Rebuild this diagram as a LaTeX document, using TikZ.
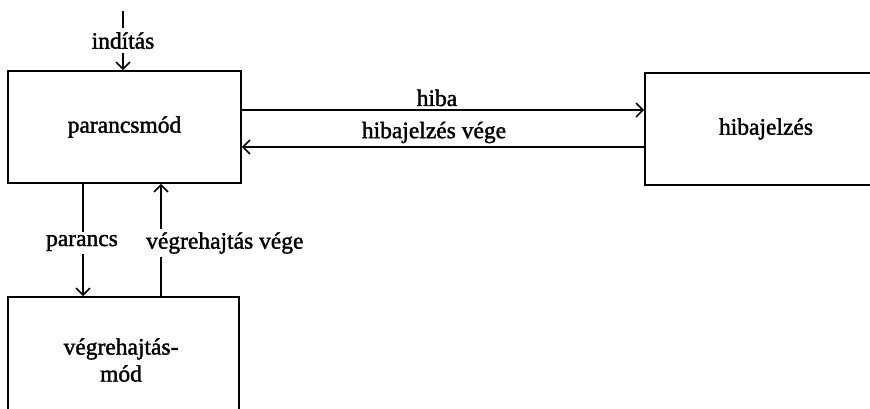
\documentclass[tikz,border=0pt]{standalone}
\usepackage{fontspec}
\setmainfont{Liberation Serif}[AutoFakeBold=1.6]
\usetikzlibrary{arrows.meta}
\tikzset{
  frame/.style={draw, line width=1.6pt, inner sep=0pt},
  flow/.style={line width=1.6pt, -{Straight Barb[length=7pt,width=14pt,line width=1.6pt]}},
  lbl/.style={font=\fontsize{23.5}{27}\selectfont\bfseries, inner sep=1pt},
  gaplbl/.style={lbl, fill=white, inner sep=3pt},
}
\begin{document}
\begin{tikzpicture}[x=1pt, y=-1pt]
  \clip (0,0) rectangle (870,409);

  % boxes (the right and lower ones run past the edge)
  \node[frame, minimum width=233pt, minimum height=112pt] (pm) at (124.5,127) {};
  \node[lbl] (pmtext) at (pm.center) {parancsmód};

  \node[frame, minimum width=242pt, minimum height=112pt] (hj) at (766,129) {};
  \node[lbl] (hjtext) at (hj.center) {hibajelzés};

  \node[frame, minimum width=231pt, minimum height=130pt] (vm) at (123.5,362) {};
  \node[lbl, align=center] (vmtext) at (121,360) {végrehajtás-\\mód};

  % start signal
  \coordinate (start) at (123,11);
  \draw[flow] (start) -- node[gaplbl, inner ysep=4pt] (startlbl) {indítás} (start |- pm.north);

  % error signalling
  \coordinate (hibaA) at (pm.east |- 0,110);
  \coordinate (hibaB) at (hj.west |- 0,110);
  \draw[flow] (hibaA) -- node[lbl, above=2pt, xshift=-6pt] (hibalbl) {hiba} (hibaB);

  \coordinate (vegeA) at (hj.west |- 0,147);
  \coordinate (vegeB) at (pm.east |- 0,147);
  \draw[flow] (vegeA) -- node[lbl, above=2pt, xshift=-9pt] (vegelbl) {hibajelzés vége} (vegeB);

  % command / execution
  \coordinate (cmdA) at (83,0);
  \draw[flow] (cmdA |- pm.south) -- (cmdA |- vm.north);
  \node[gaplbl] (cmdlbl) at (82,243) {parancs};

  \coordinate (execA) at (161,0);
  \draw[flow] (execA |- vm.north) -- (execA |- pm.south);
  \node[gaplbl, anchor=west] (execlbl) at (143,243) {végrehajtás vége};
\end{tikzpicture}
\end{document}
